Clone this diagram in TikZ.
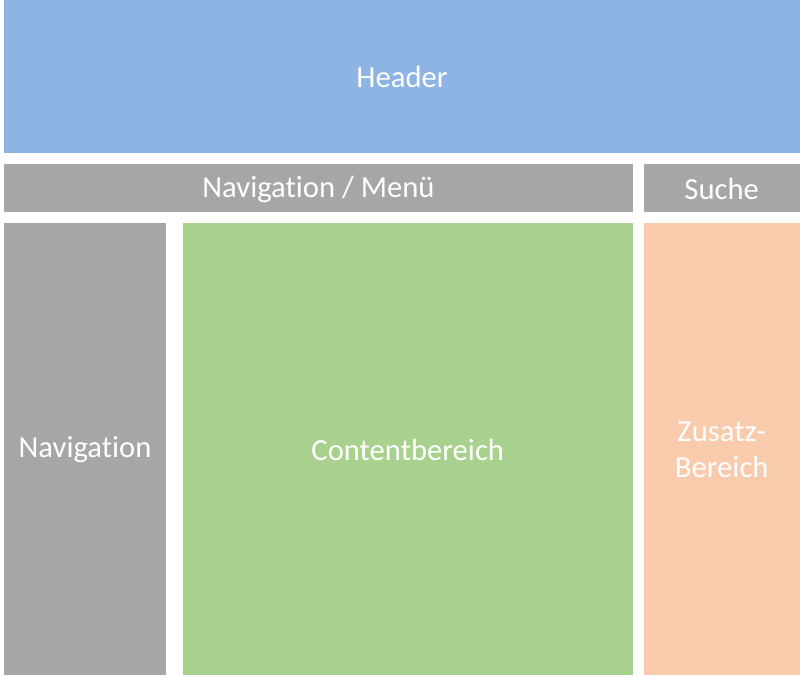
\documentclass[tikz,border=0pt]{standalone}
\usepackage{fontspec}
\setmainfont{Carlito}[RawFeature={-liga;-clig;-dlig;-calt}]
\definecolor{hdr}{HTML}{8DB4E2}
\definecolor{gry}{HTML}{A6A6A6}
\definecolor{grn}{HTML}{A9D18E}
\definecolor{pch}{HTML}{F8CBAD}
\newcommand{\nolig}{\kern0pt\relax}
\begin{document}
\begin{tikzpicture}[x=0.75pt,y=-0.75pt,
  blk/.style={inner sep=0pt,outer sep=0pt,text=white,font=\fontsize{23}{27}\selectfont,align=center}]
\useasboundingbox (0,0) rectangle (800,675);
\fill[white] (0,0) rectangle (800,675);
\fill[hdr] (4,0) rectangle (800,153);
\node[blk] (header) at (402,76.5) {Header};
\fill[gry] (4,164) rectangle (633,212);
\node[blk] (menu) at (318.5,189) {Navigat\nolig ion / Menü};
\fill[gry] (643.5,164) rectangle (800,212);
\node[blk] (suche) at (721.75,189) {Suche};
\fill[gry] (4,222.5) rectangle (166,675);
\node[blk] (nav) at (85,449.5) {Navigat\nolig ion};
\fill[grn] (182.5,222.5) rectangle (633,675);
\node[blk] (content) at (407.75,449.5) {Contentbereich};
\fill[pch] (643.5,222.5) rectangle (800,675);
\node[blk] (zusatz) at (721.75,449.5) {Zusatz-\\Bereich};
\end{tikzpicture}
\end{document}
